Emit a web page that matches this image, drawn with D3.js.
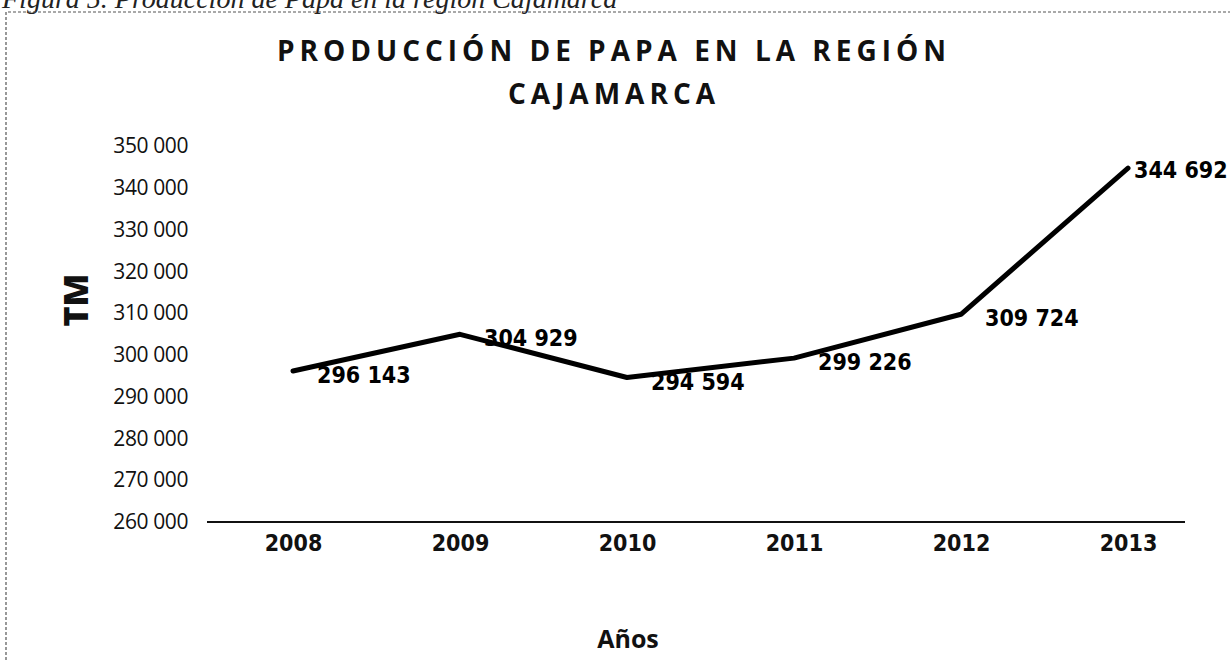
<!DOCTYPE html>
<html>
<head>
<meta charset="utf-8">
<script src="https://cdn.jsdelivr.net/npm/d3@7"></script>
<style>
  body { margin: 0; background: #fff; }
  svg { display: block; }
</style>
</head>
<body>
<svg id="chart"></svg>
<script>
// Data
const years = ["2008", "2009", "2010", "2011", "2012", "2013"];
const production = [296143, 304929, 294594, 299226, 309724, 344692];
const yTicks = [260000, 270000, 280000, 290000, 300000, 310000, 320000, 330000, 340000, 350000];

const width = 1230;
const height = 660;
const condensed = "'DejaVu Sans Condensed', 'Liberation Sans Narrow', sans-serif";

const svg = d3.select("#chart")
  .attr("width", width)
  .attr("height", height);

// scanned-page frame (dotted box) and the caption cut off above it
svg.append("text")
  .attr("x", 2)
  .attr("y", 8)
  .style("font-family", "'Liberation Serif', serif")
  .style("font-style", "italic")
  .style("font-size", "28px")
  .attr("fill", "#222")
  .text("Figura 5. Producción de Papa en la región Cajamarca");

svg.append("path")
  .attr("d", `M6,${height} V12 H${width}`)
  .attr("fill", "none")
  .attr("stroke", "#555")
  .attr("stroke-width", 1.2)
  .attr("stroke-dasharray", "3,2");

// Scales
const x = d3.scalePoint()
  .domain(years)
  .range([293, 1128]);

const y = d3.scaleLinear()
  .domain([260000, 350000])
  .range([522, 146]);

const fmt = v => d3.format(",")(v).replace(/,/g, " ");

// Y axis (labels only)
const yAxis = svg.append("g")
  .attr("transform", "translate(188,0)")
  .call(d3.axisLeft(y).tickValues(yTicks).tickSize(0).tickPadding(0).tickFormat(fmt));
yAxis.select(".domain").remove();
yAxis.selectAll("text")
  .style("font-family", "'Open Sans', 'DejaVu Sans', sans-serif")
  .style("font-size", "21px")
  .style("letter-spacing", "-0.4px")
  .attr("fill", "#111");

// X axis
const xAxis = svg.append("g")
  .attr("transform", "translate(0,522)")
  .call(d3.axisBottom(x).tickSize(0).tickPadding(13));
xAxis.select(".domain")
  .attr("d", "M207,0H1185")
  .attr("stroke", "#111")
  .attr("stroke-width", 2.2);
xAxis.selectAll("text")
  .style("font-family", condensed)
  .style("font-weight", "bold")
  .style("font-size", "23px")
  .attr("fill", "#111");

// Line
const line = d3.line()
  .x((d, i) => x(years[i]))
  .y(d => y(d));

svg.append("path")
  .datum(production)
  .attr("d", line)
  .attr("fill", "none")
  .attr("stroke", "#000")
  .attr("stroke-width", 5)
  .attr("stroke-linejoin", "round")
  .attr("stroke-linecap", "round");

// Data labels (last one sits right at its point, as in the source)
const last = production.length - 1;
svg.append("g")
  .selectAll("text")
  .data(production)
  .join("text")
  .attr("x", (d, i) => x(years[i]) + (i === last ? 6 : 24))
  .attr("y", (d, i) => y(d) + (i === last ? 2 : 4))
  .attr("dy", "0.35em")
  .style("font-family", condensed)
  .style("font-weight", "bold")
  .style("font-size", "23px")
  .attr("fill", "#000")
  .text(fmt);

// Title
const title = svg.append("text")
  .attr("text-anchor", "middle")
  .style("font-family", "'Open Sans', 'DejaVu Sans', sans-serif")
  .style("font-weight", "bold")
  .style("font-size", "28px")
  .style("letter-spacing", "5px")
  .attr("fill", "#111");
title.append("tspan").attr("x", 614).attr("y", 61).text("PRODUCCIÓN DE PAPA EN LA REGIÓN");
title.append("tspan").attr("x", 614).attr("y", 104).text("CAJAMARCA");

// Axis titles
svg.append("text")
  .attr("transform", "translate(88,300) rotate(-90)")
  .attr("text-anchor", "middle")
  .style("font-family", "'Open Sans', 'DejaVu Sans', sans-serif")
  .style("font-weight", "800")
  .style("font-size", "34px")
  .attr("fill", "#111")
  .text("TM");

svg.append("text")
  .attr("x", 628)
  .attr("y", 648)
  .attr("text-anchor", "middle")
  .style("font-family", "'Open Sans', 'DejaVu Sans', sans-serif")
  .style("font-weight", "bold")
  .style("font-size", "25px")
  .attr("fill", "#111")
  .text("Años");
</script>
</body>
</html>
